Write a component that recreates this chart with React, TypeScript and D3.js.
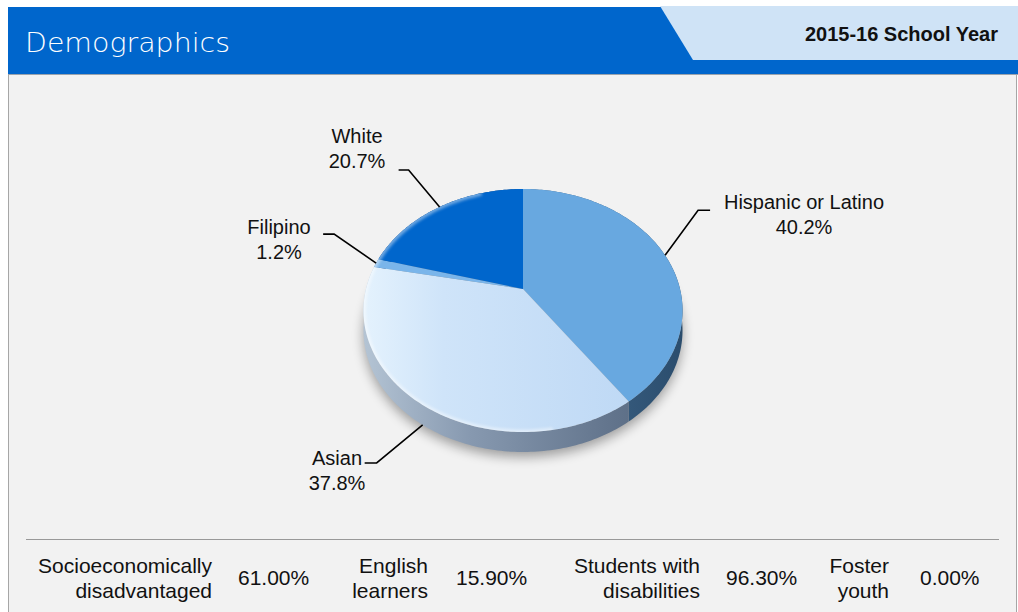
import * as d3 from 'd3'
import { useEffect, useRef } from 'react'

const groups = ['Hispanic or Latino', 'Asian', 'Filipino', 'White']
const shares = [40.2, 37.8, 1.2, 20.7]
const shareLabels = ['40.2%', '37.8%', '1.2%', '20.7%']

const statNames = [['Socioeconomically', 'disadvantaged'], ['English', 'learners'], ['Students with', 'disabilities'], ['Foster', 'youth']]
const statValues = ['61.00%', '15.90%', '96.30%', '0.00%']

const W = 1018
const H = 612

// pie placement (perspective tilt)
const cx = 523, cy = 289, R = 157, Ry = 117.7, k = 0.177, depth = 20

const topColors = ['#68a8e0', 'url(#asianTop)', '#7ab5ea', '#0066cc']
const sideColors = ['url(#hispSide)', 'url(#asianSide)', '#5d86b3', '#1d4f86']

// leader elbow offsets + text centres, per slice
const labelLayout = [
  { dx: 33, dy: -45, run: 12, tx: 804, ty: 209, front: false },
  { dx: -46, dy: 38, run: -12, tx: 337, ty: 465, front: true },
  { dx: -42, dy: -29, run: -11, tx: 279, ty: 234, front: false },
  { dx: -31, dy: -37, run: -10, tx: 357, ty: 143, front: false },
]

// bottom strip columns
const statLabelRight = [212, 428, 700, 889]
const statValueLeft = [238, 456, 726, 920]

const proj = (a: number, dy = 0): [number, number] => {
  const u = Math.sin(a)
  const v = -Math.cos(a)
  const s = 1 / (1 - k * v)
  return [cx + R * u * s, cy + Ry * v * s + dy]
}

const ring = (a0: number, a1: number, dy = 0) => {
  const n = Math.max(2, Math.ceil((a1 - a0) / (Math.PI / 180)))
  const pts: [number, number][] = []
  for (let i = 0; i <= n; i++) pts.push(proj(a0 + (a1 - a0) * i / n, dy))
  return pts
}

export default function App() {
  const svgRef = useRef(null)

  const update = () => {
    const svg = d3.select(svgRef.current)
    svg.selectAll('*').remove()

    const defs = svg.append('defs')
    const lg = (id: string, stops: [number, string][]) => {
      const g = defs.append('linearGradient').attr('id', id).attr('x1', 0).attr('x2', 1).attr('y1', 0).attr('y2', 0)
      stops.forEach(([o, c]) => g.append('stop').attr('offset', o).attr('stop-color', c))
    }
    lg('asianTop', [[0, '#e4f2fd'], [0.3, '#cfe4f9'], [1, '#bfd9f5']])
    lg('asianSide', [[0, '#b4c4d4'], [0.4, '#8799b0'], [1, '#5e7088']])
    lg('hispSide', [[0, '#456d93'], [1, '#2b4d6d']])
    defs.append('filter').attr('id', 'blur').attr('x', '-20%').attr('y', '-20%').attr('width', '140%').attr('height', '140%')
      .append('feGaussianBlur').attr('stdDeviation', 6)
    defs.append('filter').attr('id', 'soft')
      .append('feGaussianBlur').attr('stdDeviation', 1.5)

    // panel
    svg.append('rect').attr('x', 8).attr('y', 74).attr('width', 1008).attr('height', H - 74).attr('fill', '#f2f2f2')
    svg.append('line').attr('x1', 8.5).attr('x2', 8.5).attr('y1', 74).attr('y2', H).attr('stroke', '#a6a6a6')
    svg.append('line').attr('x1', 1016.5).attr('x2', 1016.5).attr('y1', 74).attr('y2', H).attr('stroke', '#a6a6a6')

    // header
    svg.append('rect').attr('x', 8).attr('y', 7).attr('width', W - 8).attr('height', 67).attr('fill', '#0066cc')
    svg.append('line').attr('x1', 8).attr('x2', W).attr('y1', 74.5).attr('y2', 74.5).attr('stroke', '#9aa3ad')
    svg.append('polygon').attr('points', `660,6 ${W},6 ${W},60 693,60`).attr('fill', '#cfe3f6')
    svg.append('text').attr('x', 25).attr('y', 52).attr('fill', '#fff')
      .style('font-family', '"DejaVu Sans", sans-serif').style('font-weight', 200).style('font-size', '27px')
      .attr('textLength', 205).attr('lengthAdjust', 'spacingAndGlyphs')
      .text('Demographics')
    svg.append('text').attr('x', 998).attr('y', 41).attr('text-anchor', 'end').attr('fill', '#111')
      .style('font-family', '"Liberation Sans", Arial, sans-serif').style('font-weight', 700).style('font-size', '20px')
      .text('2015-16 School Year')

    // pie
    const arcs = d3.pie<number>().sort(null).value(d => d)(shares)
    const line = d3.line()
    const g = svg.append('g')

    g.append('path').attr('d', line([...ring(0, Math.PI * 2, depth + 5)]) + 'Z')
      .attr('fill', '#000').attr('opacity', 0.35).attr('filter', 'url(#blur)')

    arcs.forEach((a, i) => {
      const pts = [...ring(a.startAngle, a.endAngle, 0), ...ring(a.startAngle, a.endAngle, depth).reverse()]
      g.append('path').attr('d', line(pts) + 'Z').attr('fill', sideColors[i])
    })
    arcs.forEach((a, i) => {
      const pts: [number, number][] = [[cx, cy], ...ring(a.startAngle, a.endAngle, 0)]
      g.append('path').attr('d', line(pts) + 'Z').attr('fill', topColors[i])
    })
    // rim highlight
    defs.append('clipPath').attr('id', 'topClip').append('path').attr('d', line(ring(0, Math.PI * 2, 0)) + 'Z')
    g.append('path').attr('d', line(ring(Math.PI * 0.95, Math.PI * 1.9, 0)))
      .attr('fill', 'none').attr('stroke', '#fff').attr('stroke-width', 5).attr('opacity', 0.45)
      .attr('filter', 'url(#soft)').attr('clip-path', 'url(#topClip)')

    // labels
    const lab = svg.append('g')
      .style('font-family', '"Liberation Sans", Arial, sans-serif').style('font-size', '20px').attr('fill', '#111')
    arcs.forEach((a, i) => {
      const L = labelLayout[i]
      const mid = (a.startAngle + a.endAngle) / 2
      const [ax, ay] = proj(mid, L.front ? depth : 0)
      const ex = ax + L.dx, ey = ay + L.dy
      lab.append('polyline').attr('points', `${ax},${ay} ${ex},${ey} ${ex + L.run},${ey}`)
        .attr('fill', 'none').attr('stroke', '#000').attr('stroke-width', 1.6)
      lab.append('text').attr('x', L.tx).attr('y', L.ty).attr('text-anchor', 'middle').text(groups[i])
      lab.append('text').attr('x', L.tx).attr('y', L.ty + 25).attr('text-anchor', 'middle').text(shareLabels[i])
    })

    // bottom strip
    svg.append('line').attr('x1', 26).attr('x2', 999).attr('y1', 539.5).attr('y2', 539.5).attr('stroke', '#999')
    const st = svg.append('g')
      .style('font-family', '"Liberation Sans", Arial, sans-serif').style('font-size', '21px').attr('fill', '#111')
    statNames.forEach((nm, i) => {
      nm.forEach((t, j) => {
        st.append('text').attr('x', statLabelRight[i]).attr('y', 573 + j * 25).attr('text-anchor', 'end').text(t)
      })
      st.append('text').attr('x', statValueLeft[i]).attr('y', 585).text(statValues[i])
    })
  }

  useEffect(() => {
    update()
  })

  return (
    <div style={{ position: 'absolute', left: 0, top: 0, width: W, height: H }}>
      <svg ref={svgRef} width={W} height={H} style={{ display: 'block', background: '#fff' }}></svg>
    </div>
  )
}
